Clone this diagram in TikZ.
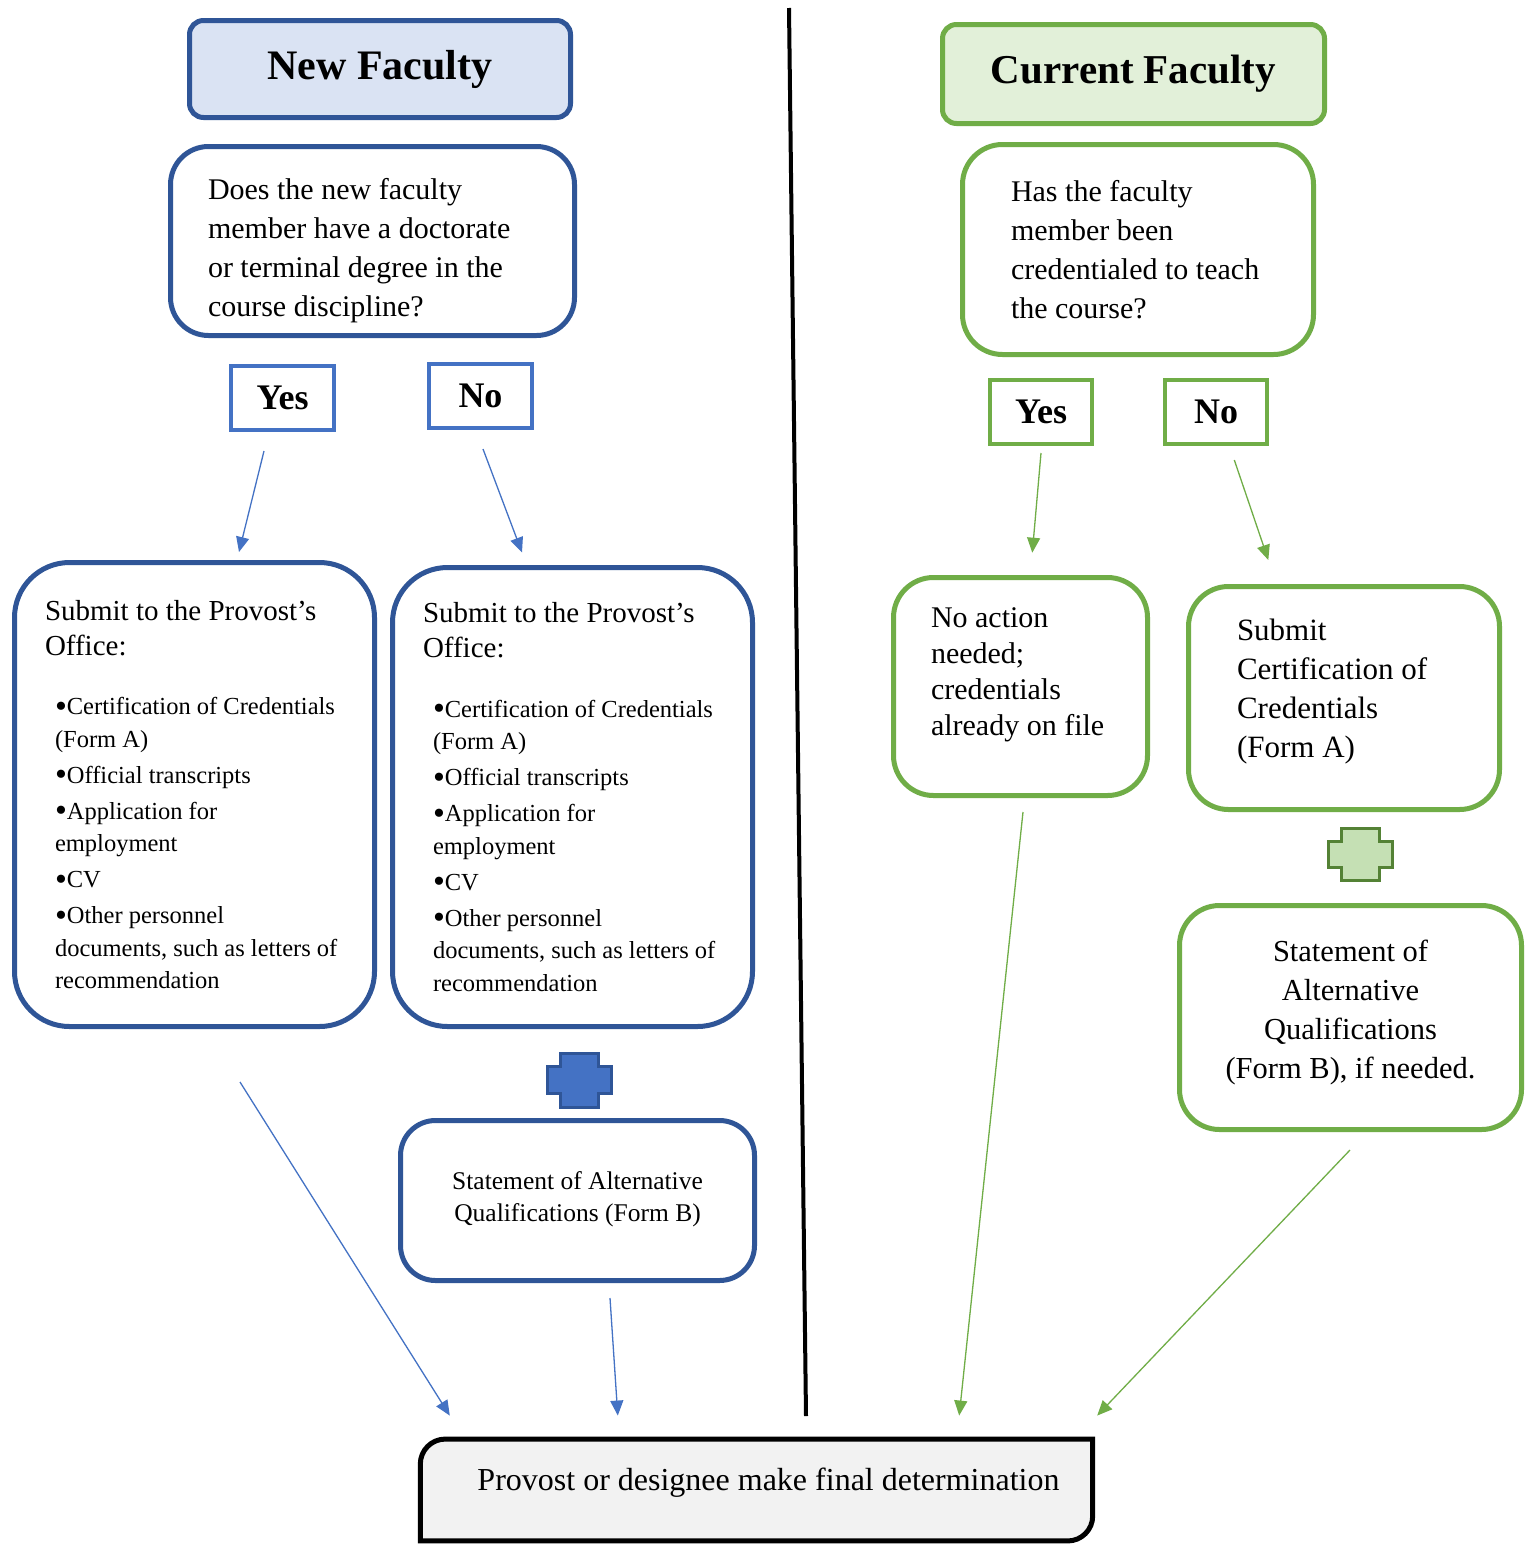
\documentclass[tikz,border=0pt]{standalone}
\usepackage{fontspec}
\setmainfont{Liberation Serif}
\usepackage{xcolor}
\usetikzlibrary{arrows.meta, positioning, calc, backgrounds}

\definecolor{navy}{HTML}{2F5597}
\definecolor{tagblue}{HTML}{4472C4}
\definecolor{paleblue}{HTML}{DAE3F3}
\definecolor{leaf}{HTML}{70AD47}
\definecolor{paleleaf}{HTML}{E2F0D9}
\definecolor{plusleaf}{HTML}{C5E0B4}
\definecolor{darkleaf}{HTML}{548235}
\definecolor{paper}{HTML}{F2F2F2}

\newcommand{\fsz}[2]{\fontsize{#1}{#2}\selectfont}
\newcommand{\dotmark}{\raisebox{-2.5pt}{\fsz{34}{32.5}\textbullet}}
\newcommand{\submitlist}{%
    {\fsz{29}{35}\spaceskip=0pt\xspaceskip=0pt Submit to the Provost’s\\Office:\par}%
    \vspace{27pt}%
    {\fsz{24.5}{32.5}\spaceskip=0pt\xspaceskip=0pt\leftskip=10pt
    \dotmark Certification of Credentials\\(Form A)\\[3.5pt]
    \dotmark Official transcripts\\[3.5pt]
    \dotmark Application for\\employment\\[3.5pt]
    \dotmark CV\\[3.5pt]
    \dotmark Other personnel\\documents, such as letters of\\recommendation\par}}

\begin{document}
\begin{tikzpicture}[
    x=1pt, y=-1pt,
    >={Triangle[length=15pt, width=13pt]},
    title_box/.style={
        rectangle,
        draw=#1,
        line width=5pt,
        rounded corners=14pt,
        minimum height=97pt,
        font=\fsz{42}{50}\bfseries
    },
    ask_box/.style={
        rectangle,
        draw=#1,
        line width=5pt,
        rounded corners=40pt,
        inner sep=0pt,
        align=flush left,
        font=\fsz{30}{39}
    },
    tag_box/.style={
        rectangle,
        draw=#1,
        line width=4.5pt,
        minimum width=103pt,
        minimum height=64pt,
        inner sep=0pt,
        font=\fsz{36}{40}\bfseries
    },
    list_box/.style={
        rectangle,
        draw=navy,
        line width=5pt,
        rounded corners=55pt,
        minimum width=360pt,
        text width=299pt,
        inner sep=0pt,
        align=flush left
    },
    form_box/.style={
        rectangle,
        draw=#1,
        line width=5pt,
        rounded corners=38pt,
        inner sep=0pt,
        align=flush center
    },
    final_box/.style={
        rectangle,
        minimum width=672pt,
        minimum height=101.5pt,
        inner sep=0pt,
        font=\fsz{32}{38}
    },
    arrow_main/.style={
        ->,
        line width=1.3pt,
        color=#1
    },
    plus_mark/.style 2 args={
        line width=3pt,
        draw=#1,
        fill=#2,
        line join=miter
    }
]
    \useasboundingbox (0,0) rectangle (1535,1545);

    % New faculty side
    \node (titleNew) [title_box=navy, fill=paleblue, minimum width=381pt] at (380,69) {New Faculty};
    \node (askNew) [ask_box=navy, rounded corners=38pt, below=24pt of titleNew, xshift=-7.5pt,
        minimum width=404pt, minimum height=189pt, text width=329pt] {\rule{0pt}{40.5pt}Does the new faculty\\member have a doctorate\\or terminal degree in the\\course discipline?};
    \node (yesNew) [tag_box=tagblue] at (282.5,398) {Yes};
    \node (noNew) [tag_box=tagblue] at (480.5,396) {No};
    \node (listYes) [list_box, minimum height=464pt] at (194.5,794.5) {\submitlist};
    \node (listNo) [list_box, minimum height=459pt] at (572.5,797) {\submitlist};
    \coordinate (plusNew) at (579,1080);
    \node (stmtNew) [form_box=navy, rounded corners=35pt, minimum width=354pt, minimum height=160pt,
        text width=320pt, font=\fsz{25.5}{32}] at (577.5,1200.5) {Statement of Alternative\\Qualifications (Form B)\rule[-7.5pt]{0pt}{1pt}};

    % Current faculty side
    \node (titleCur) [title_box=leaf, fill=paleleaf, minimum width=382pt, minimum height=99pt,
        font=\fsz{41}{50}\bfseries] at (1133.5,74) {Current Faculty};
    \node (askCur) [ask_box=leaf, below=16pt of titleCur, xshift=4.5pt,
        minimum width=351pt, minimum height=210pt, text width=254pt] {Has the faculty\\member been\\credentialed to teach\\the course?};
    \node (yesCur) [tag_box=leaf, minimum width=102pt] at (1041,412) {Yes};
    \node (noCur) [tag_box=leaf, minimum width=102pt] at (1216,412) {No};
    \node (noneNeeded) [ask_box=leaf, minimum width=254pt, minimum height=218pt, text width=179pt,
        font=\fsz{30}{36}] at (1020.5,686.5) {No action\\needed;\\credentials\\already on file\rule[-30.5pt]{0pt}{1pt}};
    \node (formA) [ask_box=leaf, minimum width=311pt, minimum height=223pt, text width=214pt,
        font=\fsz{31}{39}] at (1344,698) {Submit\\Certification of\\Credentials\\(Form A)\rule[-19pt]{0pt}{1pt}};
    \coordinate (plusCur) at (1360,854);
    \node (stmtCur) [form_box=leaf, rounded corners=40pt, minimum width=342pt, minimum height=224pt,
        text width=310pt, font=\fsz{30.5}{39}] at (1350.5,1017.5) {Statement of\\Alternative\\Qualifications\\(Form B), if needed.\rule[-16pt]{0pt}{1pt}};

    % Final determination
    \node (fin) [final_box] at (756.5,1490) {\hspace*{24pt}Provost or designee make final determination\rule[-22pt]{0pt}{1pt}};

    \begin{scope}[on background layer]
        \fill[white] (0,0) rectangle (1535,1545);
        \draw[line width=5pt, fill=paper] (fin.south west) [rounded corners=25pt] -- (fin.north west) [sharp corners] -- (fin.north east) [rounded corners=25pt] -- (fin.south east) [sharp corners] -- cycle;
    \end{scope}

    % Plus signs
    \draw[plus_mark={navy}{tagblue}, shift={(plusNew)}] (-19,-27) -- (19,-27) -- (19,-13.5) -- (32,-13.5) -- (32,13.5) -- (19,13.5) -- (19,27) -- (-19,27) -- (-19,13.5) -- (-32,13.5) -- (-32,-13.5) -- (-19,-13.5) -- cycle;
    \draw[plus_mark={darkleaf}{plusleaf}, shift={(plusCur)}] (-19,-26) -- (19,-26) -- (19,-13) -- (32,-13) -- (32,13) -- (19,13) -- (19,26) -- (-19,26) -- (-19,13) -- (-32,13) -- (-32,-13) -- (-19,-13) -- cycle;

    % Divider
    \draw[line width=4pt] (789,8) -- (806,1416);

    % Connections, new faculty
    \draw [arrow_main=tagblue] ($(yesNew.south)+(-18.5,18.75)$) -- ($(listYes.north)+(44.5,-8)$);
    \draw [arrow_main=tagblue] ($(noNew.south)+(2.5,18.75)$) -- ($(listNo.north)+(-50.5,-12.5)$);
    \draw [arrow_main=tagblue] ($(listYes.south)+(45.5,53)$) -- ($(fin.north west)+(29.5,-23.5)$);
    \draw [arrow_main=tagblue] ($(stmtNew.south)+(32.5,15)$) -- ($(fin.north west)+(197.5,-23.5)$);

    % Connections, current faculty
    \draw [arrow_main=leaf] ($(yesCur.south)+(0,6.75)$) -- ($(noneNeeded.north)+(11.8,-22.3)$);
    \draw [arrow_main=leaf] ($(noCur.south)+(18.3,13.75)$) -- ($(formA.north)+(-75.7,-24)$);
    \draw [arrow_main=leaf] ($(noneNeeded.south)+(2.5,14)$) -- ($(fin.north east)+(-133.5,-23.5)$);
    \draw [arrow_main=leaf] ($(stmtCur.south)+(-0.5,18)$) -- ($(fin.north east)+(4.5,-23.5)$);

\end{tikzpicture}
\end{document}
